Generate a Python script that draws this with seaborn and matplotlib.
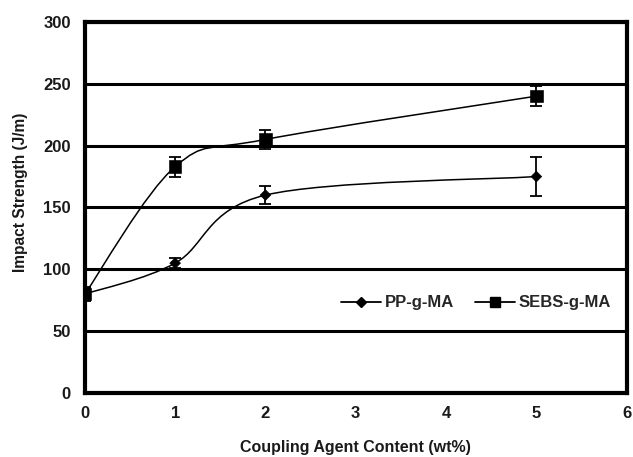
import numpy as np
import pandas as pd
import seaborn as sns
import matplotlib
matplotlib.use("Agg")
import matplotlib.pyplot as plt
from matplotlib.path import Path
from matplotlib.patches import PathPatch
from matplotlib.lines import Line2D

sns.set_theme(style="white")
plt.rcParams['font.family'] = ['Liberation Sans', 'DejaVu Sans']

# === data ===
content = [0, 1, 2, 5]
pp_strength = [80, 105, 160, 175]
pp_err = [5, 4, 7, 16]
sebs_strength = [80, 183, 205, 240]
sebs_err = [6, 8, 8, 8]
series_names = ["PP-g-MA", "SEBS-g-MA"]
y_ticks = [0, 50, 100, 150, 200, 250, 300]
x_ticks = [0, 1, 2, 3, 4, 5, 6]

df = pd.DataFrame({
    "content": content * 2,
    "strength": pp_strength + sebs_strength,
    "series": [series_names[0]] * 4 + [series_names[1]] * 4,
})


def smooth_path(xs, ys):
    # Excel-like smoothed line: cubic bezier through the points
    pts = np.column_stack([xs, ys]).astype(float)
    n = len(pts)
    verts = [pts[0]]
    codes = [Path.MOVETO]
    for i in range(n - 1):
        p0 = pts[i - 1] if i > 0 else pts[i]
        p1 = pts[i]
        p2 = pts[i + 1]
        p3 = pts[i + 2] if i + 2 < n else pts[i + 1]
        c1 = p1 + (p2 - p0) / 6.0
        c2 = p2 - (p3 - p1) / 6.0
        verts += [c1, c2, p2]
        codes += [Path.CURVE4] * 3
    return Path(verts, codes)


fig, ax = plt.subplots(figsize=(6.33, 4.57), dpi=100)
fig.subplots_adjust(left=0.134, right=0.99, top=0.952, bottom=0.14)

# horizontal grid lines
for yv in y_ticks[1:]:
    ax.axhline(yv, color="black", lw=2.2, zorder=1)

# smoothed lines
for ys in [pp_strength, sebs_strength]:
    ax.add_patch(PathPatch(smooth_path(content, ys), fill=False,
                           edgecolor="black", lw=1.1, zorder=2))

# error bars
ax.errorbar(content, pp_strength, yerr=pp_err, fmt="none", ecolor="black",
            elinewidth=1.3, capsize=4, capthick=1.3, zorder=3)
ax.errorbar(content, sebs_strength, yerr=sebs_err, fmt="none", ecolor="black",
            elinewidth=1.3, capsize=4, capthick=1.3, zorder=3)

# markers
sns.scatterplot(data=df, x="content", y="strength", style="series",
                markers={"PP-g-MA": "D", "SEBS-g-MA": "s"},
                size="series", sizes={"PP-g-MA": 30, "SEBS-g-MA": 80},
                color="black", edgecolor="black", legend=False, ax=ax, zorder=4)

ax.set_xlim(0, 6)
ax.set_ylim(0, 300)
ax.set_xticks(x_ticks)
ax.set_yticks(y_ticks)
ax.tick_params(axis="x", direction="in", length=4, width=0.8, color="#999999",
               pad=9, labelsize=12)
ax.tick_params(axis="y", length=0, pad=10, labelsize=12)
for lab in ax.get_xticklabels() + ax.get_yticklabels():
    lab.set_fontweight("bold")
    lab.set_color("#1a1a1a")

for sp in ax.spines.values():
    sp.set_visible(True)
    sp.set_color("black")
    sp.set_linewidth(3)

ax.set_xlabel("Coupling Agent Content (wt%)", fontsize=11.5, fontweight="bold",
              color="#1a1a1a", labelpad=14)
ax.set_ylabel("Impact Strength (J/m)", fontsize=11.2, fontweight="bold",
              color="#1a1a1a")
ax.yaxis.set_label_coords(-0.105, 0.54)

handles = [
    Line2D([], [], color="black", lw=1.3, marker="D", markersize=5),
    Line2D([], [], color="black", lw=1.3, marker="s", markersize=7),
]
ax.legend(handles, series_names, loc="center", bbox_to_anchor=(0.722, 0.243),
          ncol=2, frameon=False, handlelength=2.4, handletextpad=0.2,
          columnspacing=1.3, prop={"weight": "bold", "size": 12})

plt.savefig("out.png", dpi=100)
